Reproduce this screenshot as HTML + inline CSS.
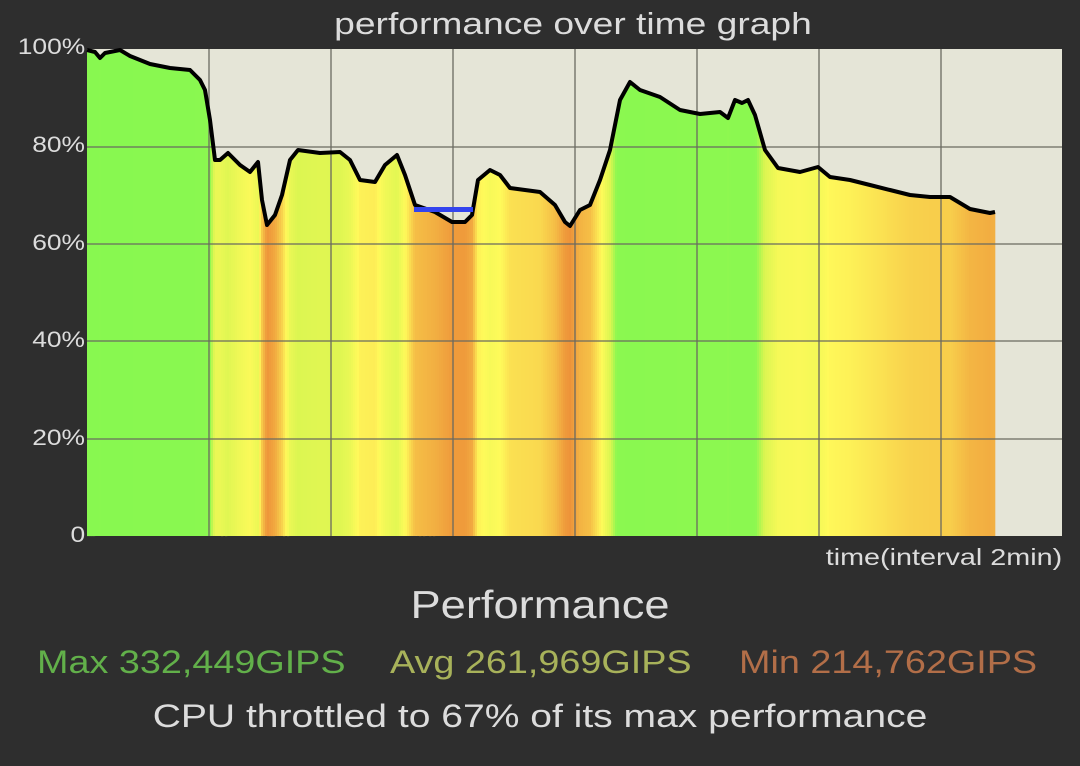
<!DOCTYPE html><html><head><style>
body{margin:0;width:1080px;height:766px;background:#2e2e2e;overflow:hidden;font-family:"Liberation Sans",sans-serif}
.t{position:absolute;color:#dcdcdc;white-space:nowrap}
.c{left:0;width:1080px;text-align:center;transform:scaleX(1.2);transform-origin:540px 0}
.r{text-align:right;transform:scaleX(1.2);transform-origin:100% 0}
.l{transform:scaleX(1.18);transform-origin:0 0}
</style></head><body>
<div class="t c" style="width:1146px;transform-origin:573px 0;top:6px;font-size:31px">performance over time graph</div>
<svg id="s" width="1080" height="766" style="position:absolute;left:0;top:0"></svg>
<div class="t r" style="right:995px;top:34px;font-size:22px">100%</div>
<div class="t r" style="right:995px;top:132px;font-size:22px">80%</div>
<div class="t r" style="right:995px;top:230px;font-size:22px">60%</div>
<div class="t r" style="right:995px;top:327px;font-size:22px">40%</div>
<div class="t r" style="right:995px;top:425px;font-size:22px">20%</div>
<div class="t r" style="right:995px;top:522px;font-size:22px">0</div>
<div class="t r" style="right:18px;top:544px;font-size:23px;transform:scaleX(1.25)">time(interval 2min)</div>
<div class="t c" style="top:584px;font-size:39px;transform:scaleX(1.16)">Performance</div>
<div class="t l" style="left:37px;top:644px;font-size:32px;color:#62b04a">Max 332,449GIPS</div>
<div class="t l" style="left:390px;top:644px;font-size:32px;color:#a8b25a">Avg 261,969GIPS</div>
<div class="t l" style="left:739px;top:644px;font-size:32px;color:#b26e48">Min 214,762GIPS</div>
<div class="t c" style="top:698px;font-size:32px;transform:scaleX(1.22)">CPU throttled to 67% of its max performance</div>
<script>
var k=[[87,50],[95,52],[100,58],[105,53],[120,50],[130,56],[150,64],[170,68],[190,70],[200,80],[205,90],[210,120],[215,160],[220,160],[228,153],[240,165],[250,172],[258,162],[262,200],[267,225],[275,215],[282,195],[290,160],[298,150],[320,153],[340,152],[350,160],[360,180],[375,182],[385,165],[397,155],[405,175],[415,205],[435,212],[452,222],[465,222],[472,215],[478,180],[490,170],[500,175],[510,188],[540,192],[555,205],[565,222],[570,226],[580,210],[590,205],[600,180],[610,150],[620,100],[630,82],[640,90],[660,97],[680,110],[700,114],[720,112],[728,118],[735,100],[742,103],[748,100],[755,115],[765,150],[778,168],[800,172],[818,167],[830,177],[850,180],[870,185],[890,190],[910,195],[930,197],[950,197],[960,203],[970,209],[990,213],[995,212]];
function yAt(x){for(var i=1;i<k.length;i++){if(x<=k[i][0]){var a=k[i-1],b=k[i];return a[1]+(b[1]-a[1])*(x-a[0])/(b[0]-a[0]);}}return k[k.length-1][1];}
function col(p){var st=[[63,[236,140,55]],[68,[245,190,70]],[74,[255,250,90]],[80,[215,245,80]],[86,[140,248,80]],[100,[136,248,80]]];
if(p<=st[0][0])return st[0][1];for(var i=1;i<st.length;i++){if(p<=st[i][0]){var a=st[i-1],b=st[i],t=(p-a[0])/(b[0]-a[0]);return a[1].map(function(v,j){return Math.round(v+(b[1][j]-v)*t)});}}return st[st.length-1][1];}
var h='<rect x="87" y="49" width="975" height="487" fill="#e5e5d7"/>';
for(var x=87;x<995;x+=2){var y=yAt(x+1);var p=(536-y)/487*100;var c=col(p);h+='<rect x="'+x+'" y="'+y.toFixed(1)+'" width="2.3" height="'+(536-y).toFixed(1)+'" fill="rgb('+c+')"/>';}
[209,331,453,575,697,819,941].forEach(function(g){h+='<line x1="'+g+'" y1="49" x2="'+g+'" y2="536" stroke="#6a6a60" stroke-width="1.3"/>'});
[147,244,341,439].forEach(function(g){h+='<line x1="87" y1="'+g+'" x2="1062" y2="'+g+'" stroke="#6a6a60" stroke-width="1.3"/>'});
h+='<polyline fill="none" stroke="#000" stroke-width="4" stroke-linejoin="round" points="'+k.map(function(p){return p.join(',')}).join(' ')+'"/>';
h+='<rect x="414" y="207" width="59" height="5" fill="#3344ee"/>';
document.getElementById('s').innerHTML=h;
</script>
</body></html>
